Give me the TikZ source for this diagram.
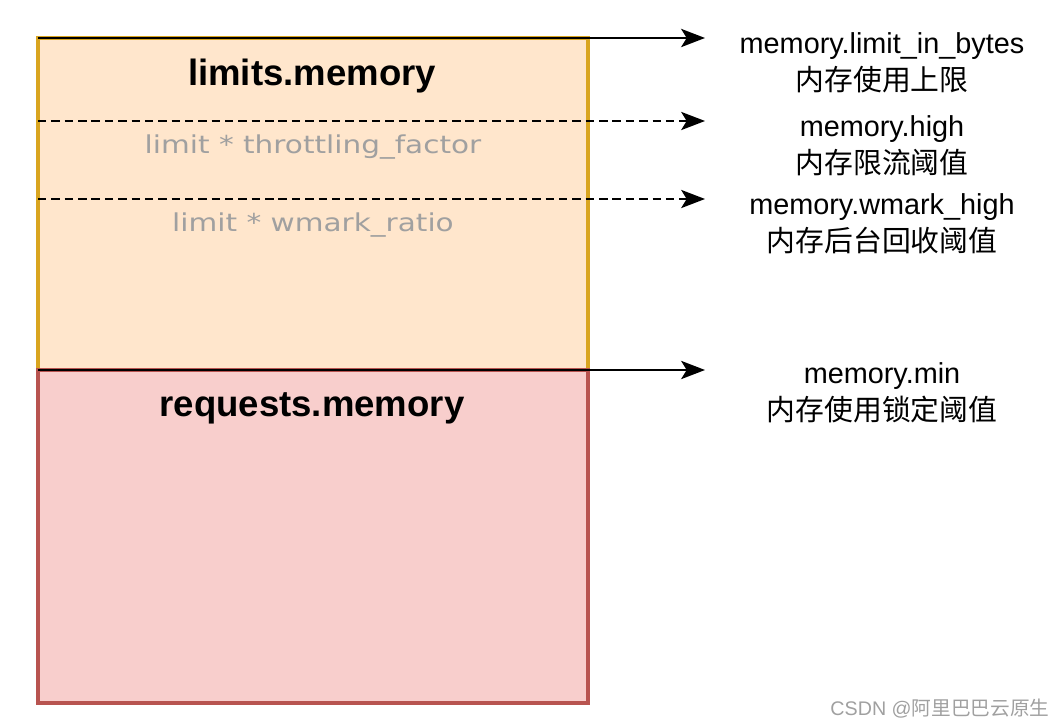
\documentclass[tikz,border=0pt]{standalone}
\usepackage{fontspec}
\setmainfont{Liberation Sans}
\newfontfamily\cjkfont{Noto Sans CJK SC}
\newfontfamily\hintfont[FakeStretch=1.2]{DejaVu Sans}
\usetikzlibrary{arrows.meta,positioning,calc}

\definecolor{limfill}{HTML}{FFE6CC}
\definecolor{limline}{HTML}{D9A520}
\definecolor{reqfill}{HTML}{F8CECC}
\definecolor{reqline}{HTML}{B85450}
\definecolor{hintgray}{HTML}{A0A0A0}

\tikzset{
  membox/.style={draw, line width=2.4pt, inner sep=0pt, outer sep=0pt, anchor=north west},
  boxtitle/.style={font=\bfseries\fontsize{26}{30}\selectfont},
  hint/.style={text=hintgray, font=\hintfont\fontsize{17.5}{20}\selectfont},
  cgname/.style={align=center, font=\fontsize{20.5}{26}\selectfont},
  levelarrow/.style={line width=1.5pt, -{Stealth[length=17pt,width=13pt,inset=4pt]}},
  softarrow/.style={levelarrow, line width=1pt, dash pattern=on 6pt off 3.5pt}
}

\begin{document}
\begin{tikzpicture}[x=0.025cm,y=-0.025cm]
    \useasboundingbox (0,0) rectangle (1060,728);

    % cgroup boxes
    \node[membox, fill=limfill, draw=limline, minimum width=13.75cm, minimum height=8.3cm] (lim) at (38,38) {};
    \node[membox, fill=reqfill, draw=reqline, minimum width=13.75cm, minimum height=8.325cm] (req) at (38,370) {};

    \node[boxtitle] (limtitle) at (312,76) {limits.memory};
    \node[boxtitle] (reqtitle) at (312,408) {requests.memory};
    \node[hint] (thrhint) at (313,147) {limit * throttling\_factor};
    \node[hint] (wmhint) at (313,225) {limit * wmark\_ratio};

    % level lines
    \coordinate (thrL) at (38,121);
    \coordinate (wmL) at (38,199);
    \coordinate (topR) at (705,38);
    \coordinate (thrR) at (705,121);
    \coordinate (wmR) at (705,199);
    \coordinate (minR) at (705,370);

    \draw[levelarrow] (lim.north west) -- (topR);
    \draw[softarrow] (thrL) -- (thrR);
    \draw[softarrow] (wmL) -- (wmR);
    \draw[levelarrow] (req.north west) -- (minR);

    % interface files
    \node[cgname] (limitlbl) at (882,63) {memory.limit\_in\_bytes\\{\cjkfont 内存使用上限}};
    \node[cgname] (highlbl) at (882,146) {memory.high\\{\cjkfont 内存限流阈值}};
    \node[cgname] (wmarklbl) at (882,224) {memory.wmark\_high\\{\cjkfont 内存后台回收阈值}};
    \node[cgname] (minlbl) at (882,393) {memory.min\\{\cjkfont 内存使用锁定阈值}};

    \node[text=hintgray, font=\fontsize{14}{16}\selectfont] (credit) at (940,709) {CSDN @{\cjkfont 阿里巴巴云原生}};
\end{tikzpicture}
\end{document}
